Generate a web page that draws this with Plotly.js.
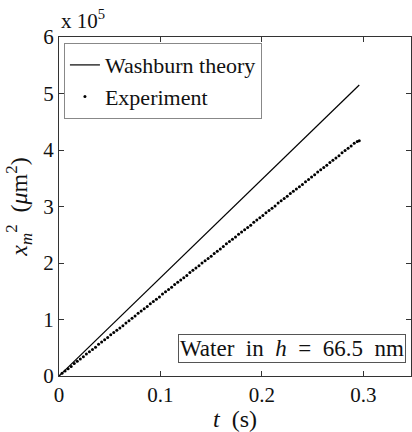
<!DOCTYPE html>
<html><head><meta charset="utf-8">
<script src="https://cdn.plot.ly/plotly-3.0.1.min.js"></script>
<style>
html,body{margin:0;padding:0;background:#fff;}
#chart{width:412px;height:432px;}
#chart text, #chart tspan{font-family:'Liberation Serif','Times New Roman',serif !important;}
</style>
</head><body><div id="chart"></div>
<script>
// Values in units of 10^5 µm^2
var theoryT = [0, 0.296];
var theoryX2 = [0, 5.15];
var expT = [0.000,0.003,0.006,0.009,0.012,0.015,0.018,0.021,0.024,0.027,0.030,0.033,0.036,0.039,0.042,0.045,0.048,0.051,0.054,0.057,
0.060,0.063,0.066,0.069,0.072,0.075,0.078,0.081,0.084,0.087,0.090,0.093,0.096,0.099,0.102,0.105,0.108,0.111,0.114,0.117,
0.120,0.123,0.126,0.129,0.132,0.135,0.138,0.141,0.144,0.147,0.150,0.153,0.156,0.159,0.162,0.165,0.168,0.171,0.174,0.177,
0.180,0.183,0.186,0.189,0.192,0.195,0.198,0.201,0.204,0.207,0.210,0.213,0.216,0.219,0.222,0.225,0.228,0.231,0.234,0.237,
0.240,0.243,0.246,0.249,0.252,0.255,0.258,0.261,0.264,0.267,0.270,0.273,0.276,0.279,0.282,0.285,0.288,0.291,0.294,0.296];
var expX2 = [0.00,0.05,0.09,0.13,0.17,0.22,0.26,0.30,0.34,0.39,0.43,0.47,0.51,0.56,0.60,0.64,0.68,0.73,0.77,0.81,
0.85,0.89,0.94,0.98,1.02,1.06,1.11,1.15,1.19,1.23,1.28,1.32,1.36,1.40,1.45,1.49,1.53,1.57,1.62,1.66,
1.70,1.74,1.78,1.83,1.87,1.91,1.95,2.00,2.04,2.08,2.12,2.17,2.21,2.25,2.29,2.34,2.38,2.42,2.46,2.51,
2.55,2.59,2.63,2.67,2.72,2.76,2.80,2.84,2.89,2.93,2.97,3.01,3.06,3.10,3.14,3.18,3.23,3.27,3.31,3.35,
3.39,3.44,3.48,3.52,3.56,3.61,3.65,3.69,3.73,3.78,3.82,3.86,3.90,3.95,3.99,4.03,4.07,4.12,4.15,4.165];
var xTicks = [0, 0.1, 0.2, 0.3];
var yTicks = [0, 1, 2, 3, 4, 5, 6];

var F = 'Liberation Serif';
var NB = '\u00A0';
var traces = [
  {x: theoryT, y: theoryX2, mode: 'lines', name: 'Washburn theory',
   line: {color: '#000', width: 1.2}},
  {x: expT, y: expX2, mode: 'markers', name: 'Experiment',
   marker: {color: '#000', size: 3}}
];
var layout = {
  width: 412, height: 432,
  margin: {l: 59, r: 1, t: 37, b: 56},
  paper_bgcolor: '#fff', plot_bgcolor: '#fff',
  showlegend: true,
  legend: {x: 0.014, y: 0.982, xanchor: 'left', yanchor: 'top',
    bgcolor: '#fff', bordercolor: '#888', borderwidth: 1,
    font: {family: F, size: 22, color: '#111'}, tracegroupgap: 0, itemwidth: 30},
  xaxis: {range: [0, 0.347], tickvals: xTicks, ticktext: xTicks.map(String),
    showgrid: false, zeroline: false, showline: true, linecolor: '#333', linewidth: 1,
    mirror: 'ticks', ticks: 'inside', ticklen: 5, tickcolor: '#333',
    tickfont: {family: F, size: 21, color: '#111'},
    title: {text: '<i>t</i>  (s)', font: {family: F, size: 24, color: '#111'}, standoff: 2}},
  yaxis: {range: [0, 6], tickvals: yTicks, ticktext: yTicks.map(String),
    showgrid: false, zeroline: false, showline: true, linecolor: '#333', linewidth: 1,
    mirror: 'ticks', ticks: 'inside', ticklen: 5, tickcolor: '#333',
    tickfont: {family: F, size: 21, color: '#111'},
    title: {text: '<i>x</i><sub><i>m</i></sub><sup>2</sup>  (<i>μ</i>m<sup>2</sup>)', font: {family: F, size: 24, color: '#111'}, standoff: 8}},
  annotations: [
    {xref: 'paper', yref: 'paper', x: 0, y: 1.005, xanchor: 'left', yanchor: 'bottom',
     text: 'x 10<sup>5</sup>', showarrow: false, font: {family: F, size: 21, color: '#111'}},
    {xref: 'paper', yref: 'paper', x: 0.986, y: 0.038, xanchor: 'right', yanchor: 'bottom',
     text: 'Water ' + NB + 'in ' + NB + '<i>h</i> ' + NB + '= ' + NB + '66.5 ' + NB + 'nm',
     showarrow: false,
     bordercolor: '#555', borderwidth: 1, borderpad: 1, bgcolor: '#fff',
     font: {family: F, size: 23, color: '#111'}}
  ]
};
Plotly.newPlot('chart', traces, layout, {displayModeBar: false, staticPlot: true});
</script>
</body></html>
